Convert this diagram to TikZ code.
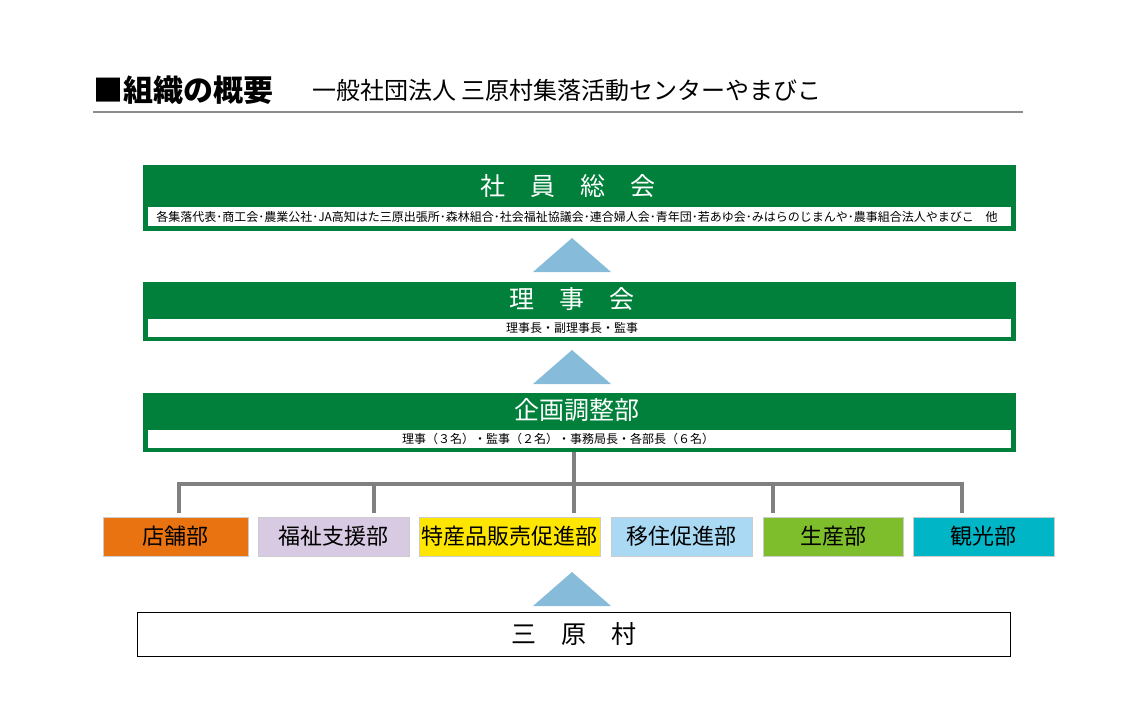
\documentclass[tikz,border=0pt]{standalone}
\usepackage{fontspec}
\setmainfont{Noto Sans CJK JP}
\usetikzlibrary{positioning}
\definecolor{bandgreen}{HTML}{00803A}
\definecolor{arrowblue}{HTML}{86BCD9}
\definecolor{shopcol}{HTML}{E97311}
\definecolor{carecol}{HTML}{D8CAE2}
\definecolor{salecol}{HTML}{FFE600}
\definecolor{movecol}{HTML}{A9D9F3}
\definecolor{farmcol}{HTML}{7EBD2B}
\definecolor{tourcol}{HTML}{00B5C6}
\tikzset{
	band/.style={fill=bandgreen, draw=none},
	strip/.style={fill=white, draw=none, inner sep=0pt},
	bandtitle/.style={text=white, font=\fontsize{25}{25}\selectfont},
	striptext/.style={font=\fontsize{12}{12}\selectfont},
	dept/.style={draw=black!20, minimum height=39pt, inner sep=0pt, font=\fontsize{22}{22}\selectfont},
	uparrow/.style={fill=arrowblue, draw=none},
	tree/.style={draw=black!50, line width=3.5pt}
}
\newcommand{\uptri}[2] % {x centre}{y base}
{
	\fill [uparrow] (#1-39,#2) -- (#1,#2-34) -- (#1+39,#2) -- cycle;
}
\begin{document}
\begin{tikzpicture}[x=1pt,y=-1pt]
	\useasboundingbox (0,0) rectangle (1124,723);
	% heading
	\node (head) [anchor=west, inner sep=0pt, font=\fontsize{30}{30}\selectfont\bfseries] at (93,90) {■組織の概要};
	\node (sub) [anchor=west, inner sep=0pt, font=\fontsize{24}{24}\selectfont] at (312,90) {一般社団法人 三原村集落活動センターやまびこ};
	\draw [black!45, line width=1.2pt] (93,112) -- (1023,112);
	% general meeting
	\fill [band] (143,165) rectangle (1016,231);
	\fill [strip] (148,207) rectangle (1011,226);
	\node (meet) [bandtitle] at (568,186) {社\quad 員\quad 総\quad 会};
	\node (meetm) [striptext] at (577,216.5) {各集落代表･商工会･農業公社･JA高知はた三原出張所･森林組合･社会福祉協議会･連合婦人会･青年団･若あゆ会･みはらのじまんや･農事組合法人やまびこ\quad 他};
	\uptri{572}{272}
	% board
	\fill [band] (143,282) rectangle (1016,341);
	\fill [strip] (148,319) rectangle (1011,337);
	\node (board) [bandtitle] at (572,299) {理\quad 事\quad 会};
	\node (boardm) [striptext] at (572,328) {理事長・副理事長・監事};
	\uptri{572}{384}
	% planning
	\fill [band] (143,393) rectangle (1016,452);
	\fill [strip] (148,430) rectangle (1011,448);
	\node (plan) [bandtitle] at (577,410) {企画調整部};
	\node (planm) [striptext] at (558,439) {理事（３名）・監事（２名）・事務局長・各部長（６名）};
	% departments
	\node (shop) [dept, fill=shopcol, minimum width=145pt] at (175.5,536.5) {店舗部};
	\node (care) [dept, fill=carecol, minimum width=151pt] at (333.5,536.5) {福祉支援部};
	\node (sale) [dept, fill=salecol, minimum width=181pt] at (509.5,536.5) {特産品販売促進部};
	\node (move) [dept, fill=movecol, minimum width=141pt] at (681.5,536.5) {移住促進部};
	\node (farm) [dept, fill=farmcol, minimum width=140pt] at (833,536.5) {生産部};
	\node (tour) [dept, fill=tourcol, minimum width=141pt] at (983.5,536.5) {観光部};
	\coordinate (split) at (574,484);
	\draw [tree] (574,452) -- (split);
	\draw [tree] (179,513) -- (179,484) -- (962,484) -- (962,513);
	\foreach \x in {374,574,773}
		\draw [tree] (\x,484) -- (\x,513);
	\uptri{572}{606}
	% village
	\node (village) [draw=black, line width=0.8pt, minimum width=873pt, minimum height=44pt, font=\fontsize{25}{25}\selectfont] at (574,634) {三\quad 原\quad 村};
\end{tikzpicture}
\end{document}
